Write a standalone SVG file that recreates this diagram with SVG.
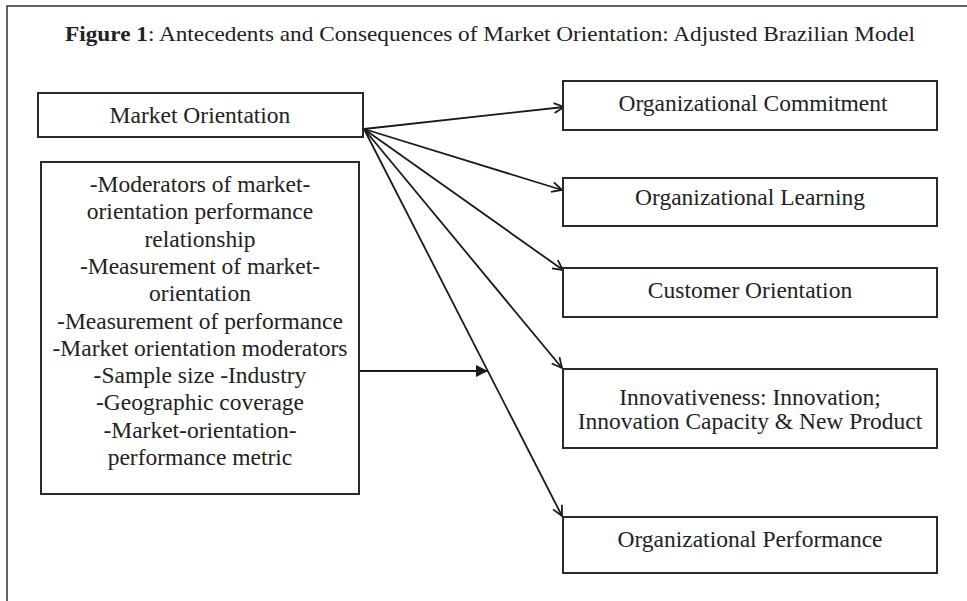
<svg xmlns="http://www.w3.org/2000/svg" width="967" height="601" viewBox="0 0 967 601">
  <style>
    .frame { fill: none; stroke: #333; stroke-width: 1.5; }
    .box { fill: #fff; stroke: #2a2a2a; stroke-width: 2; }
    .lbl { font-family: "Liberation Serif", "DejaVu Serif", serif; font-size: 23.5px; fill: #222; text-anchor: middle; }
    .title { font-family: "Liberation Serif", "DejaVu Serif", serif; font-size: 21.5px; fill: #222; }
    .edge { fill: none; stroke: #1a1a1a; stroke-width: 1.8; }
  </style>
  <defs>
    <marker id="open" viewBox="0 0 12 12" refX="11" refY="6" markerWidth="12" markerHeight="12" markerUnits="userSpaceOnUse" orient="auto">
      <path d="M1,1 L11,6 L1,11" fill="none" stroke="#1a1a1a" stroke-width="1.8"/>
    </marker>
    <marker id="solid" viewBox="0 0 12 12" refX="12" refY="6" markerWidth="12" markerHeight="12" markerUnits="userSpaceOnUse" orient="auto">
      <path d="M0,0 L12,6 L0,12 Z" fill="#1a1a1a"/>
    </marker>
  </defs>

  <rect width="967" height="601" fill="#fff"/>
  <!-- outer frame: top and left edges only -->
  <path class="frame" d="M7,601 V6 H967"/>

  <text class="title" x="65" y="41" textLength="850" lengthAdjust="spacingAndGlyphs"><tspan font-weight="bold">Figure 1</tspan>: Antecedents and Consequences of Market Orientation: Adjusted Brazilian Model</text>

  <g id="connectors">
    <line class="edge" x1="364" y1="129" x2="564" y2="107" marker-end="url(#open)"/>
    <line class="edge" x1="364" y1="129" x2="562" y2="190" marker-end="url(#open)"/>
    <line class="edge" x1="364" y1="129" x2="563" y2="270" marker-end="url(#open)"/>
    <line class="edge" x1="364" y1="129" x2="562" y2="368" marker-end="url(#open)"/>
    <line class="edge" x1="364" y1="129" x2="562" y2="516" marker-end="url(#open)"/>
    <line class="edge" x1="359" y1="371" x2="488" y2="371" marker-end="url(#solid)"/>
  </g>

  <g id="market-orientation">
    <rect class="box" x="38" y="93" width="325" height="44"/>
    <text class="lbl" x="200" y="123">Market Orientation</text>
  </g>

  <g id="moderators">
    <rect class="box" x="41" y="162" width="318" height="332"/>
    <text class="lbl" x="200" y="192">-Moderators of market-</text>
    <text class="lbl" x="200" y="219.3">orientation performance</text>
    <text class="lbl" x="200" y="246.6">relationship</text>
    <text class="lbl" x="200" y="273.9">-Measurement of market-</text>
    <text class="lbl" x="200" y="301.2">orientation</text>
    <text class="lbl" x="200" y="328.5">-Measurement of performance</text>
    <text class="lbl" x="200" y="355.8">-Market orientation moderators</text>
    <text class="lbl" x="200" y="383.1">-Sample size -Industry</text>
    <text class="lbl" x="200" y="410.4">-Geographic coverage</text>
    <text class="lbl" x="200" y="437.7">-Market-orientation-</text>
    <text class="lbl" x="200" y="465">performance metric</text>
  </g>

  <g id="organizational-commitment">
    <rect class="box" x="563" y="81" width="374" height="49"/>
    <text class="lbl" x="753" y="111">Organizational Commitment</text>
  </g>

  <g id="organizational-learning">
    <rect class="box" x="563" y="178" width="374" height="48"/>
    <text class="lbl" x="750" y="205">Organizational Learning</text>
  </g>

  <g id="customer-orientation">
    <rect class="box" x="563" y="268" width="374" height="49"/>
    <text class="lbl" x="750" y="298">Customer Orientation</text>
  </g>

  <g id="innovativeness">
    <rect class="box" x="563" y="369" width="374" height="79"/>
    <text class="lbl" x="750" y="405">Innovativeness: Innovation;</text>
    <text class="lbl" x="750" y="429">Innovation Capacity &amp; New Product</text>
  </g>

  <g id="organizational-performance">
    <rect class="box" x="563" y="517" width="374" height="56"/>
    <text class="lbl" x="750" y="547">Organizational Performance</text>
  </g>
</svg>
